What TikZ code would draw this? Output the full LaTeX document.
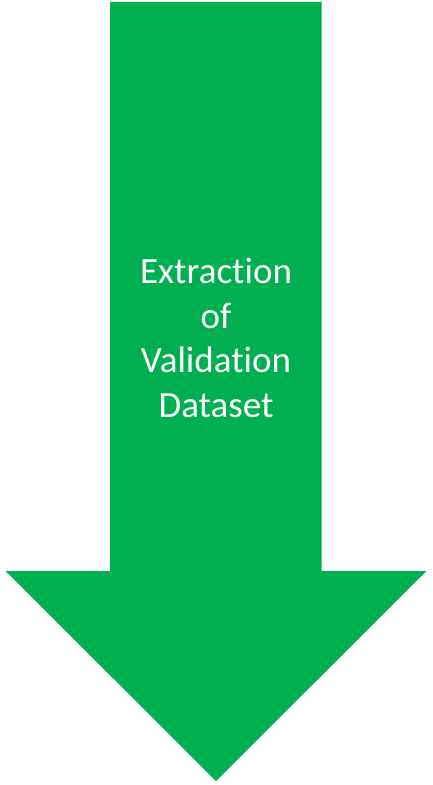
\documentclass[tikz,border=0pt]{standalone}
\usepackage{fontspec}
\setmainfont[RawFeature={-liga;-clig}]{Carlito}
\definecolor{arrowgreen}{HTML}{00B050}
\tikzset{
  arrowshape/.style={fill=arrowgreen, draw=none},
  arrowlabel/.style={text=white, align=center, inner sep=0pt, font=\fontsize{37bp}{44.7bp}\selectfont}
}
\begin{document}
\begin{tikzpicture}[x=1bp,y=-1bp]
\useasboundingbox (0,0) rectangle (432,785);
\fill[arrowshape] (110,2) -- (321.5,2) -- (321.5,571) -- (426.5,571) -- (216,781) -- (5.5,571) -- (110,571) -- cycle;
\node[arrowlabel, anchor=center] (label) at (216,337.8) {Extraction\\of\\Validation\\Dataset};
\end{tikzpicture}
\end{document}
